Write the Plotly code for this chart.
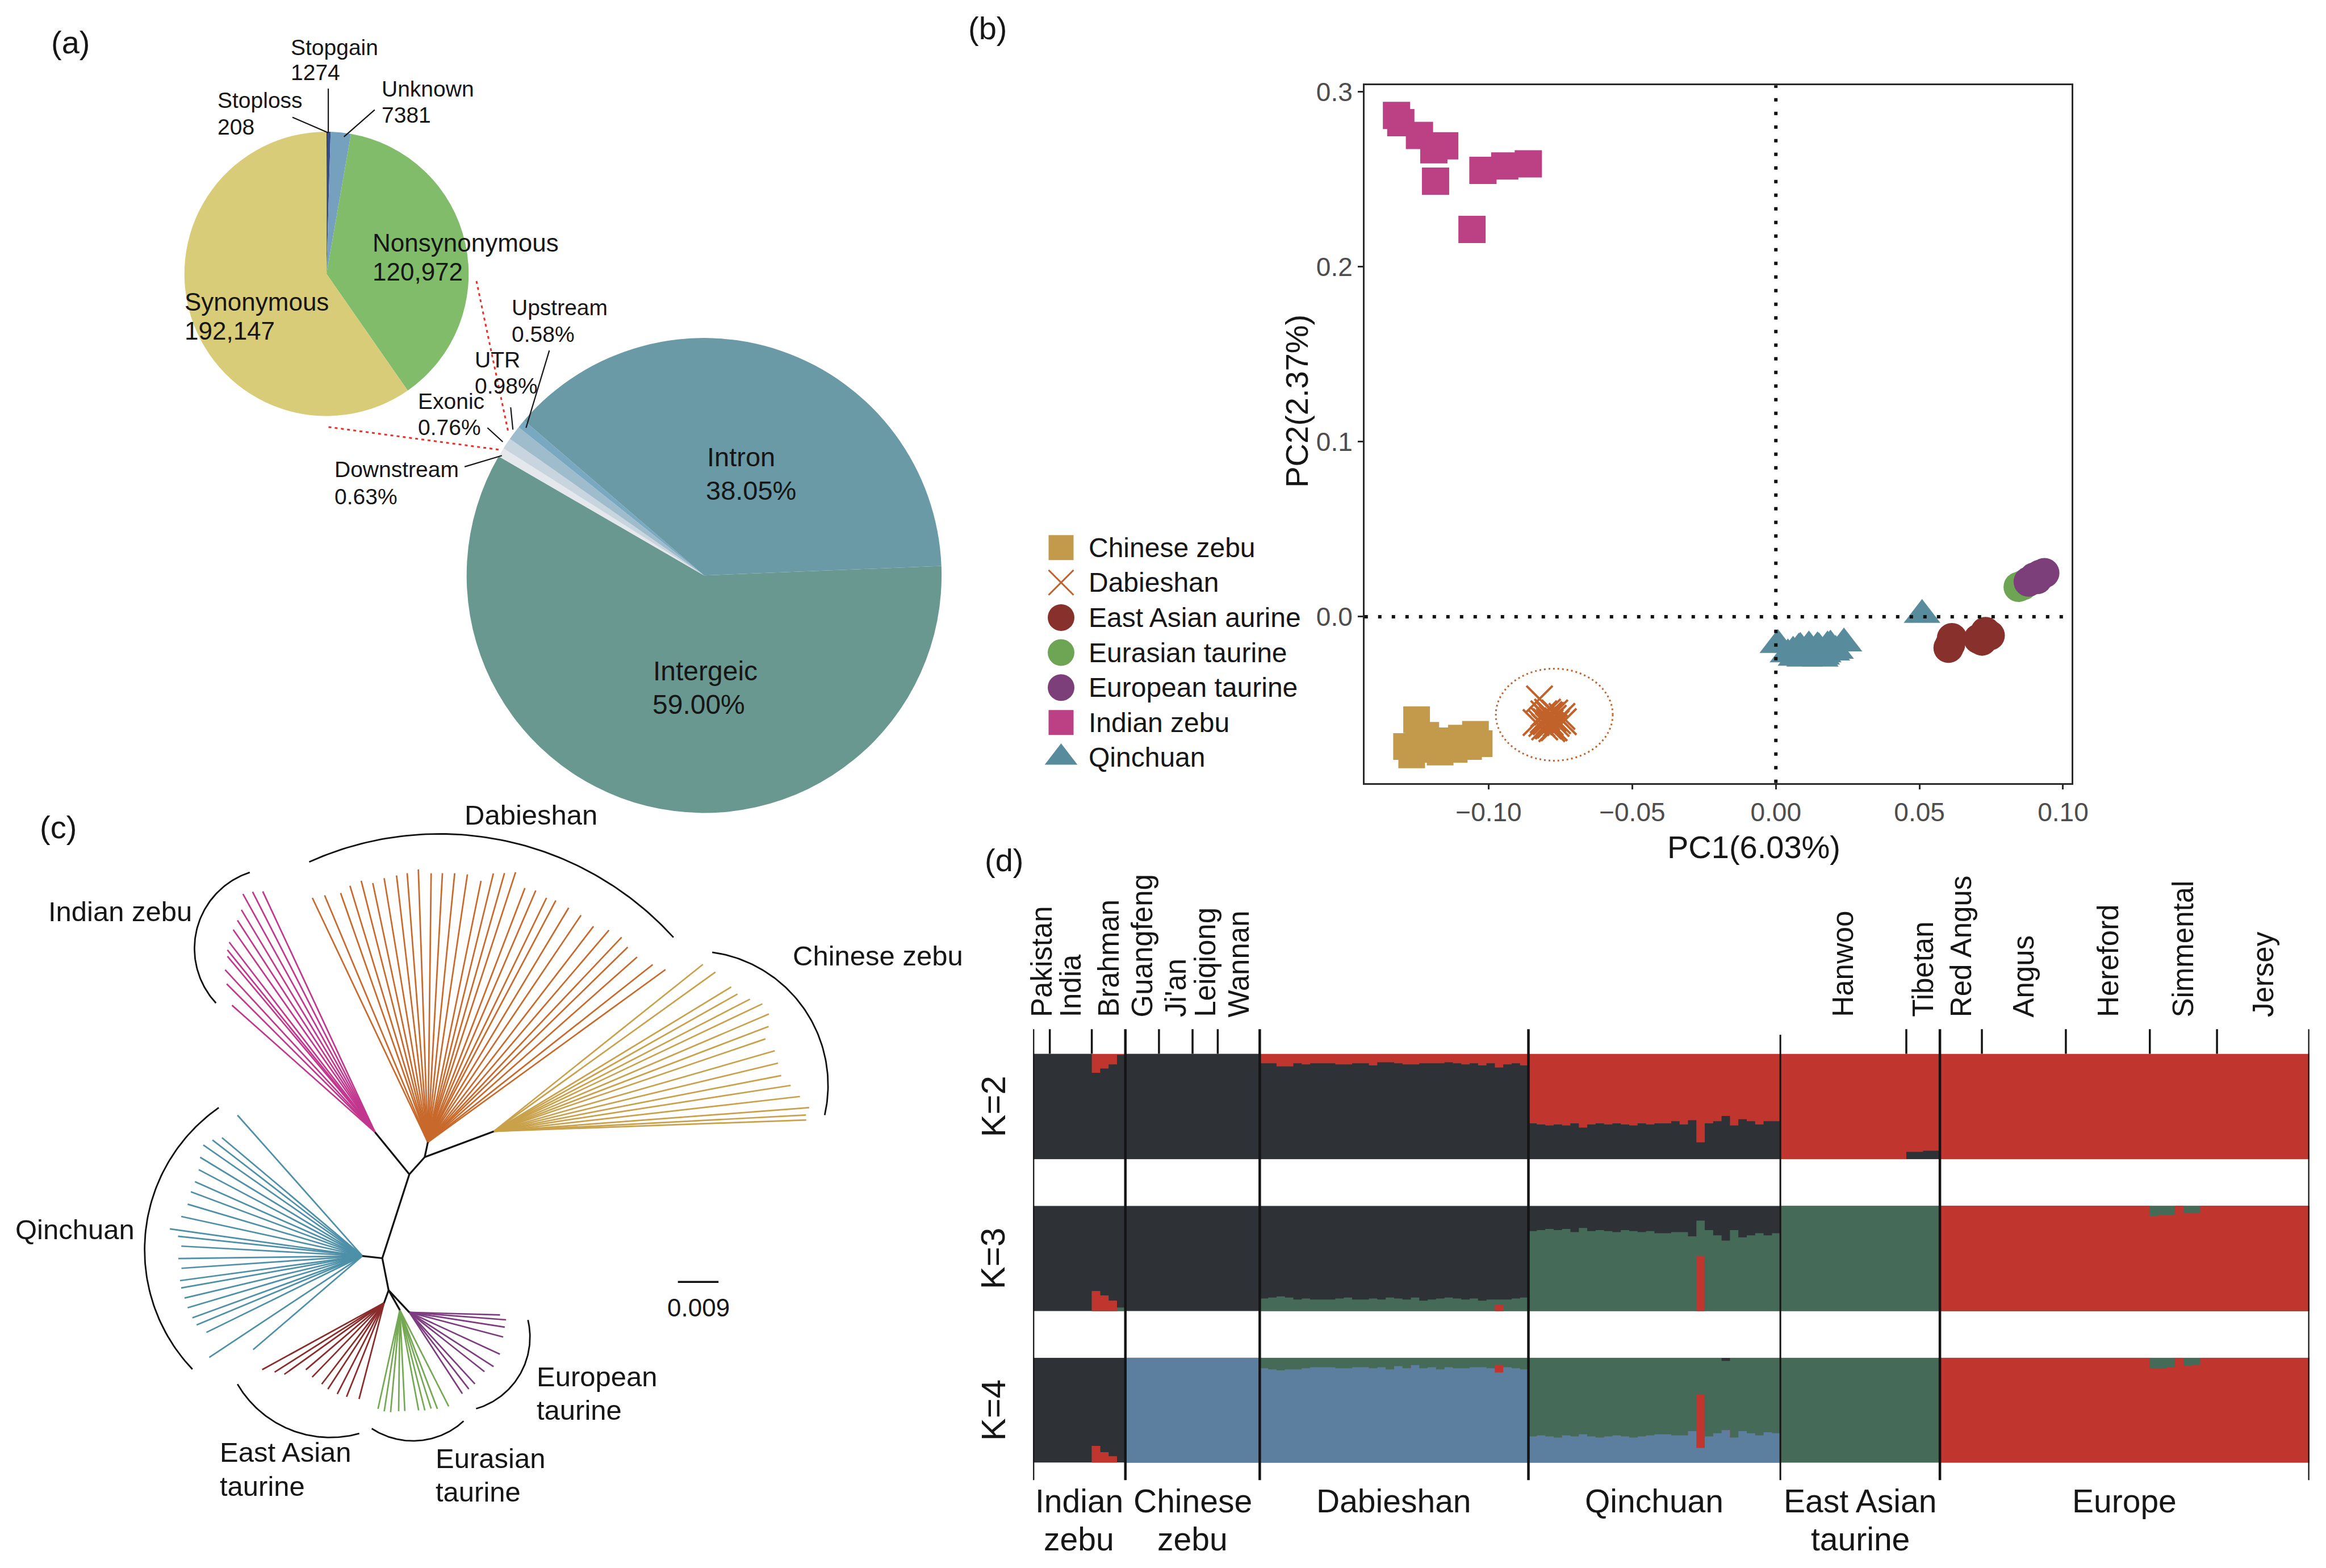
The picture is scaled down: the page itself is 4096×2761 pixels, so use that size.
import numpy as np
import plotly.graph_objects as go

W, H = 4096, 2761
RW, RH = 4393.0, 2961.0          # reference frame (layout positions are given in it)
FONT = "Liberation Sans"
INK = "#161616"


def xp(fx):
    return fx / RW


def yp(fy):
    return 1 - fy / RH


# ====================== (a) variant annotation ======================
coding_labels = ["Stoploss", "Stopgain", "Unknown", "Nonsynonymous", "Synonymous"]
coding_counts = [208, 1274, 7381, 120972, 192147]
coding_colors = ["#22386E", "#374B87", "#76A1BE", "#80BC6A", "#D9CC78"]

region_labels = ["Intergeic", "Downstream", "Exonic", "UTR", "Upstream", "Intron"]
region_pct = [59.00, 0.63, 0.76, 0.98, 0.58, 38.05]
region_colors = ["#699891", "#E4E7EC", "#C8D5DE", "#9EBCCC", "#79A8C1", "#6A9AA6"]

# ====================== (b) PCA ======================
pca_groups = ["Chinese zebu", "Dabieshan", "East Asian aurine", "Eurasian taurine",
              "European taurine", "Indian zebu", "Qinchuan"]
pca_colors = ["#C39A4C", "#C0622A", "#88302C", "#6EA555", "#7C3F7A", "#BB4084", "#588C9D"]
pca_symbols = ["square", "x-thin-open", "circle", "circle", "circle", "square", "triangle-up"]
pca_sizes = [47, 46, 53, 53, 53, 48, 56]

chinese_pc1 = [-0.1251, -0.1286, -0.1231, -0.1182, -0.1145, -0.1095, -0.1046, -0.1070,
               -0.1169, -0.1268, -0.1120, -0.1033, -0.1219, -0.1194, -0.1058, -0.1244]
chinese_pc2 = [-0.0589, -0.0742, -0.0758, -0.0726, -0.0710, -0.0694, -0.0672, -0.0742,
               -0.0774, -0.0790, -0.0758, -0.0726, -0.0678, -0.0742, -0.0710, -0.0726]
dabieshan_pc1 = [-0.0823, -0.0790, -0.0800, -0.0775, -0.0785, -0.0810, -0.0765, -0.0795,
                 -0.0780, -0.0805, -0.0770, -0.0788, -0.0798, -0.0760, -0.0815, -0.0783,
                 -0.0792, -0.0772, -0.0808, -0.0778, -0.0745, -0.0835, -0.0786, -0.0740]
dabieshan_pc2 = [-0.0470, -0.0560, -0.0600, -0.0580, -0.0620, -0.0590, -0.0610, -0.0545,
                 -0.0640, -0.0630, -0.0550, -0.0600, -0.0575, -0.0595, -0.0610, -0.0565,
                 -0.0625, -0.0635, -0.0555, -0.0585, -0.0570, -0.0605, -0.0605, -0.0600]
eastasian_pc1 = [0.0601, 0.0613, 0.0607, 0.0706, 0.0730, 0.0745, 0.0718]
eastasian_pc2 = [-0.0178, -0.0122, -0.0158, -0.0127, -0.0087, -0.0107, -0.0137]
eurasian_pc1 = [0.0845, 0.0860]
eurasian_pc2 = [0.0170, 0.0180]
european_pc1 = [0.0880, 0.0900, 0.0920, 0.0935, 0.0910]
european_pc2 = [0.0200, 0.0225, 0.0240, 0.0250, 0.0215]
indian_pc1 = [-0.1321, -0.1306, -0.1241, -0.1153, -0.1191, -0.1185, -0.1020, -0.0944,
              -0.0862, -0.1058]
indian_pc2 = [0.2866, 0.2824, 0.2751, 0.2692, 0.2669, 0.2490, 0.2552, 0.2577, 0.2589, 0.2214]
qinchuan_pc1 = [0.0007, 0.0509, 0.0237, 0.0042, 0.0060, 0.0075, 0.0090, 0.0105, 0.0120, 0.0135,
                0.0150, 0.0165, 0.0180, 0.0195, 0.0208, 0.0070, 0.0085, 0.0100, 0.0115, 0.0130,
                0.0145, 0.0160, 0.0175, 0.0190, 0.0110, 0.0125, 0.0095, 0.0140, 0.0155, 0.0080]
qinchuan_pc2 = [-0.0162, 0.0010, -0.0153, -0.0215, -0.0200, -0.0225, -0.0190, -0.0230, -0.0185,
                -0.0220, -0.0180, -0.0215, -0.0170, -0.0205, -0.0195, -0.0235, -0.0178, -0.0240,
                -0.0170, -0.0235, -0.0175, -0.0228, -0.0200, -0.0165, -0.0205, -0.0195, -0.0210,
                -0.0188, -0.0240, -0.0182]
pca_x = [chinese_pc1, dabieshan_pc1, eastasian_pc1, eurasian_pc1, european_pc1, indian_pc1, qinchuan_pc1]
pca_y = [chinese_pc2, dabieshan_pc2, eastasian_pc2, eurasian_pc2, european_pc2, indian_pc2, qinchuan_pc2]
pc1_ticks = [-0.10, -0.05, 0.00, 0.05, 0.10]
pc2_ticks = [0.0, 0.1, 0.2, 0.3]

# ====================== (c) neighbour-joining tree (substitutions / site) ======================
node_names = ["root", "zebu", "indian", "zebu_b", "dabieshan", "chinese",
              "qinchuan", "taurine", "eastasian", "eurasian", "european"]
node_parent = [-1, 0, 1, 1, 3, 3, 0, 0, 7, 7, 7]
node_x = [0.0, 0.0060, -0.0016, 0.0094, 0.0101, 0.0247, -0.0044, 0.0014, 0.0004, 0.0039, 0.0060]
node_y = [0.0, 0.0186, 0.0279, 0.0224, 0.0257, 0.0281, 0.0005, -0.0071, -0.0099, -0.0115, -0.0120]

clade_names = ["Indian zebu", "Dabieshan", "Chinese zebu", "Qinchuan",
               "East Asian taurine", "Eurasian taurine", "European taurine"]
clade_node = [2, 4, 5, 6, 8, 9, 10]
clade_colors = ["#C2378E", "#C8692C", "#C9A14A", "#4D90A8", "#8A2C2C", "#74A853", "#7D3C80"]

indian_tip_angle = [115, 117, 119, 121, 123, 125, 127.5, 129, 130, 132.7, 135, 138.4]
indian_tip_len = [0.0589, 0.0598, 0.0604, 0.0575, 0.0560, 0.0548, 0.0531, 0.0520, 0.0509,
                  0.0490, 0.0465, 0.0424]
dabieshan_tip_angle = [115.3, 112.7, 109.3, 106.9, 104.3, 102, 99.4, 96.7, 94.4, 92, 89.3, 86.9,
                       84.3, 81.6, 78.5, 76.3, 74.1, 72, 69.1, 66.8, 64.1, 62.1, 59, 56, 52.5,
                       49.5, 46.6, 44.3, 41.5, 38.3, 36]
dabieshan_tip_len = [0.0599, 0.0593, 0.0585, 0.0594, 0.0598, 0.0587, 0.0593, 0.0595, 0.0598,
                     0.0605, 0.0596, 0.0597, 0.0599, 0.0600, 0.0591, 0.0613, 0.0620, 0.0629,
                     0.0603, 0.0607, 0.0602, 0.0606, 0.0606, 0.0607, 0.0603, 0.0618, 0.0625,
                     0.0619, 0.0619, 0.0635, 0.0651]
chinese_tip_angle = [38.6, 35.7, 31.3, 29.4, 27.3, 25.4, 23.1, 20.9, 18.8, 16, 13.5, 11, 8.8,
                     6.5, 4.3, 3, 2.1]
chinese_tip_len = [0.0593, 0.0605, 0.0616, 0.0620, 0.0639, 0.0659, 0.0663, 0.0652, 0.0636,
                   0.0648, 0.0648, 0.0649, 0.0666, 0.0683, 0.0701, 0.0693, 0.0693]
qinchuan_tip_angle = [131.6, 139.9, 142.3, 145.1, 148.7, 152.2, 156.1, 159.5, 163.5, 167.7, 172,
                      173.9, 176.9, 180.8, 183.9, 187.7, 190, 193.3, 196.5, 200, 202.6, 206.1,
                      213.5, 220.6]
qinchuan_tip_len = [0.0417, 0.0407, 0.0420, 0.0430, 0.0421, 0.0410, 0.0406, 0.0406, 0.0404,
                    0.0411, 0.0431, 0.0411, 0.0402, 0.0408, 0.0402, 0.0408, 0.0408, 0.0405,
                    0.0404, 0.0401, 0.0398, 0.0385, 0.0407, 0.0319]
eastasian_tip_angle = [208.7, 212.3, 215.6, 220.5, 225.9, 232.5, 236.9, 242.8, 248.2, 255.4]
eastasian_tip_len = [0.0308, 0.0287, 0.0272, 0.0228, 0.0229, 0.0227, 0.0228, 0.0227, 0.0224, 0.0220]
eurasian_tip_angle = [257.5, 261.2, 264.8, 269.3, 272.8, 280.6, 284, 287.6, 290.8, 296.9]
eurasian_tip_len = [0.0224, 0.0227, 0.0227, 0.0224, 0.0224, 0.0226, 0.0229, 0.0229, 0.0234, 0.0239]
european_tip_angle = [303.1, 307.8, 312.5, 321.7, 327.2, 335.2, 345.3, 351.2, 355.6, 358.4]
european_tip_len = [0.0215, 0.0215, 0.0215, 0.0212, 0.0222, 0.0221, 0.0215, 0.0214, 0.0215, 0.0201]
clade_tip_angle = [indian_tip_angle, dabieshan_tip_angle, chinese_tip_angle, qinchuan_tip_angle,
                   eastasian_tip_angle, eurasian_tip_angle, european_tip_angle]
clade_tip_len = [indian_tip_len, dabieshan_tip_len, chinese_tip_len, qinchuan_tip_len,
                 eastasian_tip_len, eurasian_tip_len, european_tip_len]

# clade brackets (arcs)
arc_cx = [-0.02389, 0.01266, 0.06902, -0.01428, -0.01151, 0.00679, 0.01621]
arc_cy = [0.06863, 0.02388, 0.03831, 0.00187, -0.01588, -0.02391, -0.01748]
arc_r = [0.01773, 0.07014, 0.02977, 0.03839, 0.02384, 0.01657, 0.01652]
arc_from = [108.0, 42.3, -12.8, 124.9, 210.3, 236.6, -73.9]
arc_to = [223.0, 114.3, 82.1, 223.6, 285.6, 312.7, 13.3]
scale_bar = 0.009

# ====================== (d) ADMIXTURE ======================
group_top = ["Indian", "Chinese", "Dabieshan", "Qinchuan", "East Asian", "Europe"]
group_bottom = ["zebu", "zebu", "", "", "taurine", ""]
group_sizes = [11, 16, 32, 30, 19, 44]
breed_labels = ["Pakistan", "India", "Brahman", "Guangfeng", "Ji'an", "Leiqiong", "Wannan",
                "Hanwoo", "Tibetan", "Red Angus", "Angus", "Hereford", "Simmental", "Jersey"]
breed_start = [0, 2, 7, 11, 15, 19, 22, 89, 104, 108, 113, 123, 133, 141]
breed_size = [2, 5, 4, 4, 4, 3, 5, 15, 4, 5, 10, 10, 8, 11]

ind_k2_red = [0, 0, 0, 0, 0, 0, 0, 0.18, 0.14, 0.10, 0.01]
ind_k3_red = [0, 0, 0, 0, 0, 0, 0, 0.19, 0.15, 0.10, 0.00]
ind_k3_green = [0, 0, 0, 0, 0, 0, 0, 0, 0, 0, 0.035]
ind_k4_red = [0, 0, 0, 0, 0, 0, 0, 0.16, 0.10, 0.06, 0.00]

dab_k2_red = [0.09, 0.09, 0.12, 0.12, 0.09, 0.10, 0.09, 0.09, 0.09, 0.10, 0.10, 0.09, 0.09, 0.11,
              0.08, 0.08, 0.09, 0.10, 0.10, 0.09, 0.09, 0.09, 0.08, 0.09, 0.10, 0.09, 0.11, 0.09,
              0.13, 0.10, 0.09, 0.11]
dab_k3_green = [0.12, 0.13, 0.14, 0.13, 0.11, 0.12, 0.11, 0.11, 0.11, 0.12, 0.13, 0.11, 0.11, 0.12,
                0.11, 0.13, 0.12, 0.11, 0.13, 0.10, 0.11, 0.12, 0.13, 0.12, 0.11, 0.12, 0.10, 0.11,
                0.05, 0.11, 0.12, 0.13]
dab_k3_red = [0] * 28 + [0.06] + [0] * 3
dab_k4_green = [0.10, 0.11, 0.12, 0.11, 0.11, 0.10, 0.09, 0.09, 0.09, 0.10, 0.10, 0.09, 0.09, 0.10,
                0.09, 0.11, 0.08, 0.10, 0.07, 0.10, 0.09, 0.11, 0.09, 0.10, 0.10, 0.09, 0.09, 0.10,
                0.07, 0.09, 0.10, 0.11]
dab_k4_red = [0] * 28 + [0.07] + [0] * 3

qin_k2_red = [0.66, 0.67, 0.68, 0.67, 0.68, 0.66, 0.70, 0.67, 0.66, 0.67, 0.66, 0.67, 0.68, 0.66,
              0.67, 0.66, 0.66, 0.64, 0.67, 0.63, 0.84, 0.66, 0.64, 0.59, 0.68, 0.62, 0.64, 0.67,
              0.64, 0.64]
qin_k3_dark = [0.24, 0.23, 0.22, 0.23, 0.22, 0.25, 0.21, 0.24, 0.23, 0.24, 0.25, 0.23, 0.24, 0.25,
               0.24, 0.26, 0.26, 0.25, 0.25, 0.29, 0.14, 0.23, 0.28, 0.33, 0.23, 0.30, 0.28, 0.26,
               0.28, 0.26]
qin_k3_red = [0] * 20 + [0.52] + [0] * 9
qin_k4_blue = [0.25, 0.26, 0.25, 0.24, 0.26, 0.25, 0.27, 0.25, 0.24, 0.25, 0.26, 0.25, 0.24, 0.25,
               0.26, 0.27, 0.27, 0.26, 0.26, 0.30, 0.14, 0.25, 0.28, 0.31, 0.24, 0.30, 0.28, 0.26,
               0.29, 0.28]
qin_k4_red = [0] * 20 + [0.51] + [0] * 9
qin_k4_dark = [0] * 23 + [0.03] + [0] * 6

eat_k2_dark = [0] * 15 + [0.07, 0.07, 0.08, 0.08]
eur_k3_green = [0] * 25 + [0.10, 0.09, 0.09, 0, 0.07, 0.07, 0, 0] + [0] * 11
eur_k4_green = [0] * 25 + [0.10, 0.10, 0.09, 0, 0.075, 0.07, 0, 0] + [0] * 11

COL_DARK, COL_RED, COL_GREEN, COL_BLUE = "#2E3136", "#C0352E", "#466A58", "#5C7F9F"

# ---------------------------------------------------------------------------
n_ind, n_chz, n_dab, n_qin, n_eat, n_eur = group_sizes
A = np.asarray
z = np.zeros
o = np.ones

k2_red = np.concatenate([A(ind_k2_red), z(n_chz), A(dab_k2_red), A(qin_k2_red),
                         1 - A(eat_k2_dark), o(n_eur)])
k2_dark = 1 - k2_red

k3_red = np.concatenate([A(ind_k3_red), z(n_chz), A(dab_k3_red), A(qin_k3_red), z(n_eat),
                         1 - A(eur_k3_green)])
k3_green = np.concatenate([A(ind_k3_green), z(n_chz), A(dab_k3_green),
                           1 - A(qin_k3_dark) - A(qin_k3_red), o(n_eat), A(eur_k3_green)])
k3_dark = 1 - k3_red - k3_green

k4_blue = np.concatenate([z(n_ind), o(n_chz), 1 - A(dab_k4_green) - A(dab_k4_red), A(qin_k4_blue),
                          z(n_eat), z(n_eur)])
k4_red = np.concatenate([A(ind_k4_red), z(n_chz), A(dab_k4_red), A(qin_k4_red), z(n_eat),
                         1 - A(eur_k4_green)])
k4_green = np.concatenate([z(n_ind), z(n_chz), A(dab_k4_green),
                           1 - A(qin_k4_blue) - A(qin_k4_red) - A(qin_k4_dark), o(n_eat),
                           A(eur_k4_green)])
k4_dark = 1 - k4_blue - k4_red - k4_green

n_total = int(sum(group_sizes))
ind_idx = np.arange(n_total)

fig = go.Figure()

# ---------------- pies ----------------
def pie_domain(cx, cy, r):
    return dict(x=[(cx - r) / RW, (cx + r) / RW], y=[1 - (cy + r) / RH, 1 - (cy - r) / RH])


fig.add_trace(go.Pie(labels=coding_labels, values=coding_counts, sort=False, direction="clockwise",
                     rotation=0, marker=dict(colors=coding_colors, line=dict(width=0)),
                     textinfo="none", hoverinfo="label+value", showlegend=False,
                     domain=pie_domain(616.7, 517.2, 268.4)))
fig.add_trace(go.Pie(labels=region_labels, values=region_pct, sort=False, direction="clockwise",
                     rotation=87.7, marker=dict(colors=region_colors, line=dict(width=0)),
                     textinfo="none", hoverinfo="label+value", showlegend=False,
                     domain=pie_domain(1329.8, 1086.7, 448.5)))

# ---------------- PCA ----------------
for name, xs, ys, c, s, sz in zip(pca_groups, pca_x, pca_y, pca_colors, pca_symbols, pca_sizes):
    lw = 4 if "open" in s else 0
    fig.add_trace(go.Scatter(x=xs, y=ys, mode="markers", name=name, xaxis="x", yaxis="y",
                             marker=dict(symbol=s, size=sz, color=c, opacity=1,
                                         line=dict(width=lw, color=c)),
                             hoverinfo="name", showlegend=False))

# manual legend for (b)
leg_x0, leg_y0, leg_dy = 2004.0, 1034.0, 66.1
leg_sizes = [44, 44, 47, 47, 47, 44, 50]
fig.add_trace(go.Scatter(
    x=[leg_x0] * len(pca_groups), y=[leg_y0 + i * leg_dy for i in range(len(pca_groups))],
    mode="markers", xaxis="x2", yaxis="y2", hoverinfo="skip", showlegend=False,
    marker=dict(symbol=pca_symbols, size=leg_sizes, color=pca_colors, opacity=1,
                line=dict(width=[3 if "open" in s else 0 for s in pca_symbols], color=pca_colors))))

# ---------------- tree ----------------
PX_PER_SUB = 8522.0
ROOT_FX, ROOT_FY = 722.0, 2376.0
tx_range = [-ROOT_FX / PX_PER_SUB, (RW - ROOT_FX) / PX_PER_SUB]
ty_range = [(ROOT_FY - RH) / PX_PER_SUB, ROOT_FY / PX_PER_SUB]

for ci, nd in enumerate(clade_node):
    ang = np.radians(clade_tip_angle[ci])
    ln = A(clade_tip_len[ci])
    bx, by = node_x[nd], node_y[nd]
    xs, ys = [], []
    for a, l in zip(ang, ln):
        xs += [bx, bx + l * np.cos(a), None]
        ys += [by, by + l * np.sin(a), None]
    fig.add_trace(go.Scatter(x=xs, y=ys, mode="lines", xaxis="x3", yaxis="y3",
                             line=dict(color=clade_colors[ci], width=2.7),
                             hoverinfo="skip", showlegend=False))

bx, by = [], []
for i, p in enumerate(node_parent):
    if p >= 0:
        bx += [node_x[p], node_x[i], None]
        by += [node_y[p], node_y[i], None]
fig.add_trace(go.Scatter(x=bx, y=by, mode="lines", xaxis="x3", yaxis="y3",
                         line=dict(color="#111111", width=3.2), hoverinfo="skip", showlegend=False))

ax, ay = [], []
for cx, cy, r, a0, a1 in zip(arc_cx, arc_cy, arc_r, arc_from, arc_to):
    t = np.radians(np.linspace(a0, a1, 80))
    ax += list(cx + r * np.cos(t)) + [None]
    ay += list(cy + r * np.sin(t)) + [None]
fig.add_trace(go.Scatter(x=ax, y=ay, mode="lines", xaxis="x3", yaxis="y3",
                         line=dict(color="#111111", width=2.8), hoverinfo="skip", showlegend=False))

sb_x, sb_y = (1280.3 - ROOT_FX) / PX_PER_SUB, (ROOT_FY - 2420.8) / PX_PER_SUB
fig.add_trace(go.Scatter(x=[sb_x, sb_x + scale_bar], y=[sb_y, sb_y], mode="lines", xaxis="x3",
                         yaxis="y3", line=dict(color="#111111", width=3.5), hoverinfo="skip",
                         showlegend=False))

# ---------------- ADMIXTURE (stacked per-individual bars, drawn as seamless step areas) ------
k_layers = [
    ("x4", "y4", [(k2_dark, COL_DARK), (k2_red, COL_RED)]),
    ("x5", "y5", [(k3_red, COL_RED), (k3_green, COL_GREEN), (k3_dark, COL_DARK)]),
    ("x6", "y6", [(k4_blue, COL_BLUE), (k4_red, COL_RED), (k4_green, COL_GREEN), (k4_dark, COL_DARK)]),
]
for xa, ya, comps in k_layers:
    vals = [np.clip(A(v, dtype=float), 0, 1) for v, _ in comps]
    cum = np.cumsum(vals, axis=0)
    cum[-1] = np.maximum(cum[-1], 1.0)
    # each component drawn from 0 up to its cumulative top, uppermost first
    for k in range(len(comps) - 1, -1, -1):
        top = cum[k]
        xs, ys = [], []
        for i in ind_idx:
            xs += [i - 0.5, i + 0.5]
            ys += [top[i], top[i]]
        xs += [n_total - 0.5, -0.5]
        ys += [0.0, 0.0]
        fig.add_trace(go.Scatter(x=xs, y=ys, mode="lines", fill="toself",
                                 fillcolor=comps[k][1], line=dict(width=0, color=comps[k][1]),
                                 xaxis=xa, yaxis=ya, hoverinfo="skip", showlegend=False))

# ---------------- annotations & shapes ----------------
ann = []
shapes = []


def T(text, fx, fy, size, xanchor="left", yanchor="middle", color=INK, angle=0):
    ann.append(dict(text=text, x=xp(fx), y=yp(fy), xref="paper", yref="paper",
                    xanchor=xanchor, yanchor=yanchor, showarrow=False, textangle=angle,
                    font=dict(family=FONT, size=size, color=color)))


def L(fx0, fy0, fx1, fy1, color=INK, width=2.2, dash="solid"):
    shapes.append(dict(type="line", xref="paper", yref="paper", x0=xp(fx0), y0=yp(fy0),
                       x1=xp(fx1), y1=yp(fy1), line=dict(color=color, width=width, dash=dash)))


# panel letters
T("(a)", 94, 80, 56)
T("(b)", 1827, 53, 56)
T("(c)", 73, 1562, 56)
T("(d)", 1858, 1624, 56)

# (a) labels
T("Stopgain", 546.9, 89.3, 39)
T(f"{coding_counts[1]}", 546.9, 137.2, 39)
T("Stoploss", 408.9, 189.5, 39)
T(f"{coding_counts[0]}", 408.9, 239.3, 39)
T("Unknown", 719, 167.8, 39)
T(f"{coding_counts[2]}", 719, 216.9, 39)
T("Nonsynonymous", 701.6, 458.1, 44)
T(f"{coding_counts[3]:,}", 701.6, 513.6, 44)
T("Synonymous", 346.8, 569.7, 44)
T(f"{coding_counts[4]:,}", 346.8, 625.2, 44)
T("Upstream", 964.7, 580.6, 39)
T(f"{region_pct[4]:.2f}%", 964.7, 631.6, 39)
T("UTR", 894.5, 679.5, 39)
T(f"{region_pct[3]:.2f}%", 894.5, 729.2, 39)
T("Exonic", 787.7, 757.3, 39)
T(f"{region_pct[2]:.2f}%", 787.7, 807.1, 39)
T("Downstream", 629.8, 886.8, 39)
T(f"{region_pct[1]:.2f}%", 629.8, 937.9, 39)
T("Intron", 1333.4, 862.5, 47)
T(f"{region_pct[5]:.2f}%", 1331, 925.6, 47)
T("Intergeic", 1231.4, 1267.2, 48)
T(f"{region_pct[0]:.2f}%", 1229.8, 1330.4, 48)

L(552.3, 221.4, 620, 250.7)
L(620, 167.2, 620, 250.7)
L(707.7, 207.4, 649.6, 258.4)
L(1037.5, 661.9, 993.5, 807.8)
L(964.5, 769.2, 968.7, 811.3)
L(920.6, 807.8, 949.6, 834.4)
L(877.5, 881.4, 947.9, 860.4)
L(899.8, 530.7, 960.4, 818.3, color="#E5312A", width=3, dash="5px,6px")
L(620.5, 806.4, 947.9, 849.9, color="#E5312A", width=3, dash="5px,6px")

# (b) axis titles and legend text
T("PC1(6.03%)", 3312, 1599.7, 56, xanchor="center")
T("PC2(2.37%)", 2449, 757.5, 56, xanchor="center", angle=-90)
for i, g in enumerate(pca_groups):
    T(g, 2053.5, leg_y0 + i * leg_dy, 48)

# PCA reference lines + Dabieshan ellipse
shapes.append(dict(type="line", xref="x", yref="y domain", x0=0, x1=0, y0=0, y1=1,
                   line=dict(color="#111111", width=6, dash="6px,18px")))
shapes.append(dict(type="line", xref="x domain", yref="y", x0=0, x1=1, y0=0, y1=0,
                   line=dict(color="#111111", width=6, dash="6px,18px")))
shapes.append(dict(type="circle", xref="x", yref="y", x0=-0.0975, x1=-0.0568, y0=-0.0823,
                   y1=-0.0297, line=dict(color="#C0622A", width=3, dash="3px,5px")))

# (c) clade labels
T("Dabieshan", 1003, 1539, 49, xanchor="center")
T("Indian zebu", 226.6, 1720.9, 49, xanchor="center")
T("Chinese zebu", 1658, 1804.8, 49, xanchor="center")
T("Qinchuan", 141.6, 2322, 49, xanchor="center")
T("European", 1011, 2599.8, 49)
T("taurine", 1011, 2663.1, 49)
T("East Asian", 413, 2742.4, 49)
T("taurine", 413, 2806.7, 49)
T("Eurasian", 820, 2753.5, 49)
T("taurine", 820, 2816.9, 49)
T(f"{scale_bar:.3f}", 1319, 2469, 44, xanchor="center")

# (d) separators, breed ticks, labels
bounds = np.concatenate([[0], np.cumsum(group_sizes)]) - 0.5
for i, b in enumerate(bounds):
    thin = (i == 4)
    shapes.append(dict(type="line", xref="x4", yref="paper", x0=b, x1=b,
                       y0=yp(2795), y1=yp(1954 if thin else 1943.5),
                       line=dict(color="#141414", width=3 if thin else 4.5)))
for s in breed_start:
    b = s - 0.5
    if np.any(np.isclose(bounds, b)):
        continue
    shapes.append(dict(type="line", xref="x4", yref="paper", x0=b, x1=b, y0=yp(1990),
                       y1=yp(1943.5), line=dict(color="#141414", width=3.5)))
for name, s, n in zip(breed_labels, breed_start, breed_size):
    ann.append(dict(text=name, x=s + (n - 1) / 2, y=yp(1923), xref="x4", yref="paper",
                    xanchor="center", yanchor="bottom", textangle=-90, showarrow=False,
                    font=dict(family=FONT, size=51, color=INK)))
starts = np.concatenate([[0], np.cumsum(group_sizes)[:-1]])
for top, bot, s, n in zip(group_top, group_bottom, starts, group_sizes):
    cx = s + (n - 1) / 2
    ann.append(dict(text=top, x=cx, y=yp(2834), xref="x4", yref="paper", xanchor="center",
                    yanchor="middle", showarrow=False, font=dict(family=FONT, size=57, color=INK)))
    if bot:
        ann.append(dict(text=bot, x=cx, y=yp(2906), xref="x4", yref="paper", xanchor="center",
                        yanchor="middle", showarrow=False,
                        font=dict(family=FONT, size=57, color=INK)))
for lab, fy in zip(["K=2", "K=3", "K=4"], [2089.5, 2376.5, 2663]):
    T(lab, 1876, fy, 60, xanchor="center", angle=-90)

# ---------------- axes ----------------
hidden = dict(visible=False, showgrid=False, zeroline=False, fixedrange=True)
pca_axis = dict(showline=True, mirror=True, linecolor="#2A2A2A", linewidth=2.6, ticks="outside",
                ticklen=9, tickwidth=2.5, tickcolor="#2A2A2A", showgrid=False, zeroline=False,
                automargin=False, tickfont=dict(family=FONT, size=46, color="#4D4D4D"))
adm_dom_x = [xp(1951), xp(4361.6)]
layout = dict(
    width=W, height=H, autosize=False, margin=dict(l=0, r=0, t=0, b=0, pad=0),
    paper_bgcolor="white", plot_bgcolor="rgba(0,0,0,0)", showlegend=False,
    xaxis=dict(domain=[xp(2577), xp(3912.5)], range=[-0.14325, 0.10297], tickvals=pc1_ticks,
               tickformat=".2f", anchor="y", **pca_axis),
    yaxis=dict(domain=[yp(1478.5), yp(161)], range=[-0.09503, 0.30382], tickvals=pc2_ticks,
               tickformat=".1f", anchor="x", **pca_axis),
    xaxis2=dict(domain=[0, 1], range=[0, RW], anchor="y2", **hidden),
    yaxis2=dict(domain=[0, 1], range=[RH, 0], anchor="x2", **hidden),
    xaxis3=dict(domain=[0, 1], range=tx_range, anchor="y3", **hidden),
    yaxis3=dict(domain=[0, 1], range=ty_range, anchor="x3", **hidden),
    xaxis4=dict(domain=adm_dom_x, range=[-0.5, n_total - 0.5], anchor="y4", **hidden),
    yaxis4=dict(domain=[yp(2189), yp(1990)], range=[0, 1], anchor="x4", **hidden),
    xaxis5=dict(domain=adm_dom_x, range=[-0.5, n_total - 0.5], anchor="y5", **hidden),
    yaxis5=dict(domain=[yp(2476), yp(2277)], range=[0, 1], anchor="x5", **hidden),
    xaxis6=dict(domain=adm_dom_x, range=[-0.5, n_total - 0.5], anchor="y6", **hidden),
    yaxis6=dict(domain=[yp(2762), yp(2564)], range=[0, 1], anchor="x6", **hidden),
    annotations=ann, shapes=shapes, font=dict(family=FONT, color=INK),
)
fig.update_layout(**layout)

post = (
    "document.documentElement.style.margin='0';"
    "document.body.style.margin='0';document.body.style.padding='0';"
    "document.body.style.overflow='hidden';"
    "var gd=document.getElementById('{plot_id}');"
    "gd.style.position='absolute';gd.style.left='0px';gd.style.top='0px';"
    "Plotly.relayout(gd,{width:%d,height:%d});" % (W, H)
)
fig.write_html("out.html", config={"responsive": False, "displayModeBar": False}, post_script=post)
